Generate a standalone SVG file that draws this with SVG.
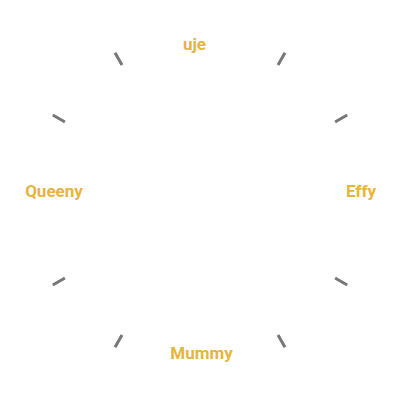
<svg xmlns="http://www.w3.org/2000/svg" width="400" height="400" viewBox="0 0 400 400">
<style>
.t{stroke:#777;stroke-width:3;stroke-linecap:butt}
.l{font-family:Roboto,"Liberation Sans",sans-serif;font-size:17px;font-weight:bold;fill:#e6b440;text-anchor:middle}
</style>
<rect width="400" height="400" fill="#fff"/>
<g id="ticks">
<line class="t" x1="278" y1="64.9" x2="285" y2="52.8"/>
<line class="t" x1="122" y1="64.9" x2="115" y2="52.8"/>
<line class="t" x1="335.1" y1="122" x2="347.2" y2="115"/>
<line class="t" x1="64.9" y1="122" x2="52.8" y2="115"/>
<line class="t" x1="335.1" y1="278" x2="347.2" y2="285"/>
<line class="t" x1="64.9" y1="278" x2="52.8" y2="285"/>
<line class="t" x1="278" y1="335.1" x2="285" y2="347.2"/>
<line class="t" x1="122" y1="335.1" x2="115" y2="347.2"/>
</g>
<g id="uje"><text class="l" x="194.5" y="50">uje</text></g>
<g id="Queeny"><text class="l" x="54" y="197">Queeny</text></g>
<g id="Effy"><text class="l" x="361" y="197">Effy</text></g>
<g id="Mummy"><text class="l" x="201.5" y="359">Mummy</text></g>
</svg>
